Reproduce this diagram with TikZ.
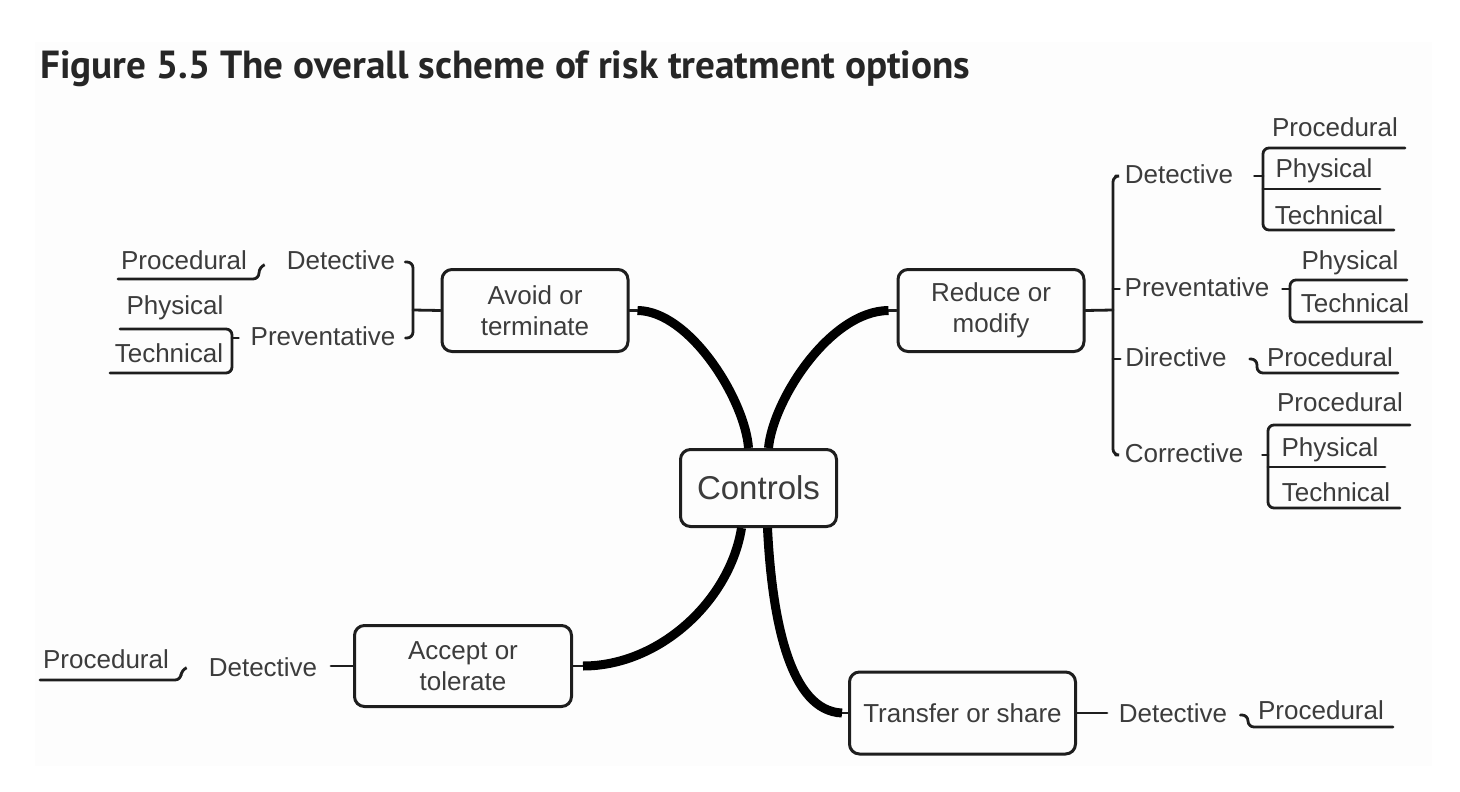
\documentclass[tikz,border=0pt]{standalone}
\usepackage{fontspec}
\setmainfont{Liberation Sans}
\newfontfamily\headfont{PT Sans}
\usepackage{tikz}

\definecolor{txtgray}{HTML}{3C3C3C}
\definecolor{linegray}{HTML}{1E1E1E}
\definecolor{panelgray}{HTML}{FDFDFD}
\definecolor{headgray}{HTML}{262626}

\begin{document}
\begin{tikzpicture}[x=1pt,y=-1pt,
    lbl/.style={text=txtgray, inner sep=1pt, text height=19pt, text depth=5pt,
                font=\fontsize{26}{31}\selectfont},
    box/.style={draw=linegray, line width=3pt, rounded corners=10pt, align=center,
                text=txtgray, font=\fontsize{26}{31}\selectfont},
    brk/.style={draw=linegray, line width=2.8pt, rounded corners=6pt, line cap=round},
    trunk/.style={draw=black, line width=9pt}]
                \useasboundingbox (0,0) rectangle (1460,792);
                \fill[panelgray] (35,42) rectangle (1432,766);
                \node[anchor=base west, inner sep=0pt, text=headgray,
                      font=\headfont\bfseries\fontsize{39.2}{45}\selectfont] (title) at (40,78)
                      {Figure 5.5 The overall scheme of risk treatment options};

                % main boxes
                \node[box, minimum width=156pt, minimum height=77pt,
                      font=\fontsize{33}{38}\selectfont] (controls) at (758.5,488) {Controls};
                \node[box, minimum width=186pt, minimum height=82pt] (avoid) at (535,310.5) {Avoid or\\terminate};
                \node[box, minimum width=186pt, minimum height=82pt] (reduce) at (991,310.5) {Reduce or\\modify};
                \node[box, minimum width=217pt, minimum height=81pt] (accept) at (463,666) {Accept or\\tolerate};
                \node[box, minimum width=226pt, minimum height=82pt] (transfer) at (962.5,713) {Transfer or share};

                % thick branches
                \draw[brk] (avoid.east) -- ++(8,0);
                \draw[trunk] ([xshift=8pt]avoid.east) .. controls (690,311) and (745,400) .. ([xshift=-10pt]controls.north);
                \draw[brk] (reduce.west) -- ++(-8,0);
                \draw[trunk] ([xshift=-8pt]reduce.west) .. controls (830,311) and (773,400) .. ([xshift=10pt]controls.north);
                \draw[brk] (accept.east) -- ++(10,0);
                \draw[trunk] ([xshift=10pt]accept.east) .. controls (660,666) and (730,600) .. ([xshift=-17pt]controls.south);
                \draw[brk] (transfer.west) -- ++(-6,0);
                \draw[trunk] ([xshift=-6pt]transfer.west) .. controls (790,711) and (772,620) .. ([xshift=9pt]controls.south);

                % avoid or terminate
                \node[lbl] (avdet) at (341,262) {Detective};
                \node[lbl] (avprev) at (323,338) {Preventative};
                \node[lbl] (avproc) at (184,262) {Procedural};
                \node[lbl] (avphys) at (175,307) {Physical};
                \node[lbl] (avtech) at (169,355) {Technical};
                \draw[brk] (avoid.west) -- (413,310);
                \draw[brk] ([xshift=9pt]avdet.east) -| (413,310) |- ([xshift=9pt]avprev.east);
                \draw[brk] (118,279) -| (259,267) -- (264,265);
                \draw[brk] ([xshift=-11pt]avprev.west) -- (232,338);
                \draw[brk] (120,329) -| (232,373) -- (110,373);

                % reduce or modify
                \node[lbl] (rddet) at (1179,176) {Detective};
                \node[lbl] (rdprev) at (1197,289) {Preventative};
                \node[lbl] (rddir) at (1176,359) {Directive};
                \node[lbl] (rdcor) at (1184,455) {Corrective};
                \draw[brk] (reduce.east) -- (1113,310);
                \draw[brk] ([xshift=-8pt]rddet.west) -| (1113,310) |- ([xshift=-8pt]rdcor.west);
                \draw[brk] (1113,289) -- ([xshift=-4pt]rdprev.west);
                \draw[brk] (1113,359) -- ([xshift=-4pt]rddir.west);

                \node[lbl] (rdd1) at (1335,129) {Procedural};
                \node[lbl] (rdd2) at (1324,170) {Physical};
                \node[lbl] (rdd3) at (1329,217) {Technical};
                \draw[brk] ([xshift=20pt]rddet.east) -- (1263,176);
                \draw[brk] (1405,148) -| (1263,230) -- (1394,230);
                \draw[brk] (1263,189) -- (1380,189);

                \node[lbl] (rdp1) at (1350,262) {Physical};
                \node[lbl] (rdp2) at (1355,305) {Technical};
                \draw[brk] ([xshift=12pt]rdprev.east) -- (1290,289);
                \draw[brk] (1407,280) -| (1290,322) -- (1422,322);

                \node[lbl] (rddr1) at (1330,359) {Procedural};
                \draw[brk] ([xshift=22pt]rddir.east) -| (1257,373) -- (1398,373);

                \node[lbl] (rdc1) at (1340,404) {Procedural};
                \node[lbl] (rdc2) at (1330,449) {Physical};
                \node[lbl] (rdc3) at (1336,494) {Technical};
                \draw[brk] ([xshift=18pt]rdcor.east) -- (1268,455);
                \draw[brk] (1410,425) -| (1268,508) -- (1400,508);
                \draw[brk] (1268,467) -- (1385,467);

                % accept or tolerate
                \node[lbl] (acdet) at (263,669) {Detective};
                \node[lbl] (acproc) at (106,661) {Procedural};
                \draw[brk] (accept.west) -- ++(-22,0);
                \draw[brk] (40,680) -| (181,670) -- (186,668);

                % transfer or share
                \node[lbl] (trdet) at (1173,715) {Detective};
                \node[lbl] (trproc) at (1321,712) {Procedural};
                \draw[brk] (transfer.east) -- ++(30,0);
                \draw[brk] ([xshift=12pt]trdet.east) -| (1248,727) -- (1393,727);
                \end{tikzpicture}
\end{document}
